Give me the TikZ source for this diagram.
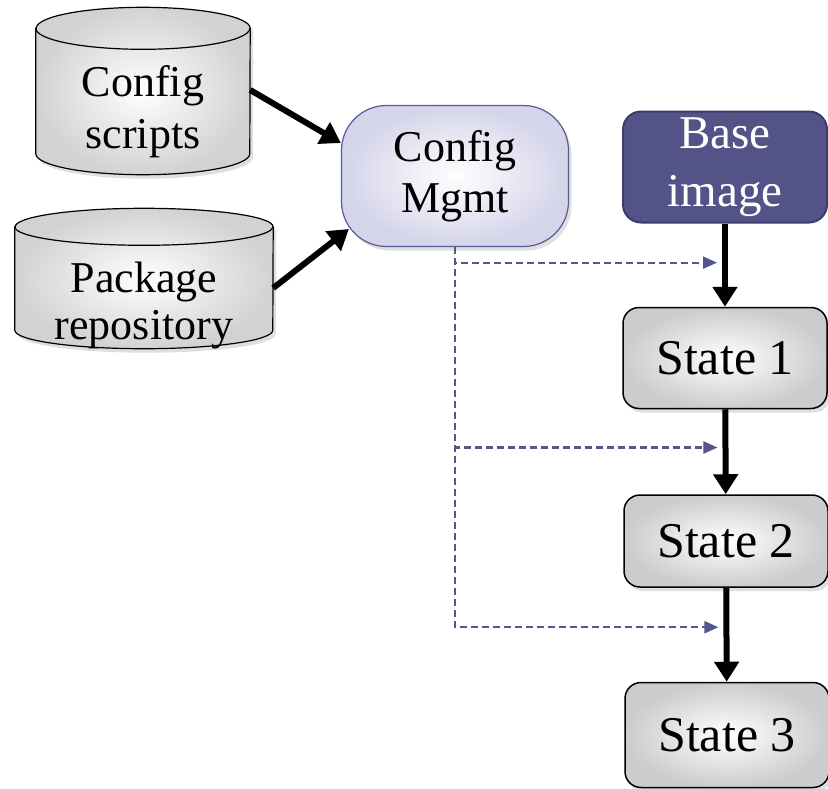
\documentclass[tikz,border=0pt]{standalone}
\usepackage{fontspec}
\setmainfont{Liberation Serif}
\usetikzlibrary{positioning,shadows,arrows.meta,backgrounds}
\definecolor{mgmtedge}{HTML}{5A5A96}
\definecolor{mgmtfill}{HTML}{D4D4EA}
\definecolor{basefill}{HTML}{535388}
\definecolor{baseedge}{HTML}{3C3C6C}
\definecolor{feedcol}{HTML}{55558F}
% drum behind a text node: node, x radius, y radius, lift of the top end
\newcommand\drum[4]{%
  \path [drumfill] ([yshift=#4]#1.north west) -- ([yshift=#3]#1.south west)
    arc [start angle=180,end angle=360,x radius=#2,y radius=#3]
    -- ([yshift=#4]#1.north east)
    arc [start angle=0,end angle=180,x radius=#2,y radius=#3] -- cycle;
  \draw [line width=1.2pt] ([yshift=#4]#1.north west)
    arc [start angle=180,end angle=360,x radius=#2,y radius=#3];}

\begin{document}
\begin{tikzpicture}[x=1pt,y=-1pt,
  store/.style={rectangle,inner sep=0pt,align=center,
    font=\fontsize{44}{52}\selectfont},
  drumfill/.style={draw,line width=1.2pt,inner color=white,outer color=gray!35,
    drop shadow={shadow xshift=3pt,shadow yshift=-4pt,opacity=.25}},
  hub/.style={rectangle,rounded corners=45pt,draw=mgmtedge,line width=1.2pt,
    inner color=white,outer color=mgmtfill,align=center,
    minimum width=227pt,minimum height=141pt,
    font=\fontsize{44}{51}\selectfont,
    drop shadow={shadow xshift=3pt,shadow yshift=-4pt,opacity=.25}},
  imgbox/.style={rectangle,rounded corners=18pt,draw=baseedge,line width=2pt,
    fill=basefill,text=white,align=center,
    minimum width=204pt,minimum height=111pt,
    font=\fontsize{47}{58}\selectfont},
  statebox/.style={rectangle,rounded corners=16pt,draw,line width=1.5pt,
    inner color=white,outer color=gray!40,align=center,
    minimum width=204pt,font=\fontsize{50}{58}\selectfont,
    drop shadow={shadow xshift=3pt,shadow yshift=-4pt,opacity=.25}},
  flow/.style={line width=6pt,-{Triangle[length=20pt,width=24pt]}},
  feed/.style={feedcol,line width=2.2pt,dash pattern=on 7pt off 4pt,
    -{Triangle[length=14pt,width=12pt]},shorten >=8pt}]
  \useasboundingbox (0,0) rectangle (828,788);

  % sources
  \node (config_scripts) [store,minimum width=214pt,minimum height=125pt]
    at (143,112) {Config\\scripts};
  \node (package_repo) [store,minimum width=258pt,minimum height=84pt,
    font=\fontsize{44}{47}\selectfont] at (144,305) {Package\\repository};
  \begin{scope}[on background layer]
    \drum{config_scripts}{107pt}{21pt}{21pt}
    \drum{package_repo}{129pt}{18.5pt}{34.5pt}
  \end{scope}

  % configuration management
  \node (config_mgmt) [hub] at (455,176) {Config\\Mgmt};

  % image states
  \node (base_image) [imgbox] at (725,167) {Base\\image};
  \node (state_one) [statebox,minimum height=101pt] at (725,358) {State 1};
  \node (state_two) [statebox,minimum height=92pt] at (726,541) {State 2};
  \node (state_three) [statebox,minimum height=105pt] at (727,735) {State 3};

  \draw [flow] ([yshift=22pt]config_scripts.east)
    -- ([yshift=33pt]config_mgmt.west);
  \draw [flow] ([yshift=17pt]package_repo.east)
    -- ([shift={(8pt,-53pt)}]config_mgmt.west);

  \draw [flow] (base_image) -- coordinate[pos=.47] (hit_one) (state_one);
  \draw [flow] (state_one) -- coordinate[pos=.45] (hit_two) (state_two);
  \draw [flow] (state_two) -- coordinate[pos=.42] (hit_three) (state_three);

  \draw [feed] (config_mgmt.south) |- (hit_one);
  \draw [feed] (config_mgmt.south) |- (hit_two);
  \draw [feed] (config_mgmt.south) |- (hit_three);
\end{tikzpicture}
\end{document}
